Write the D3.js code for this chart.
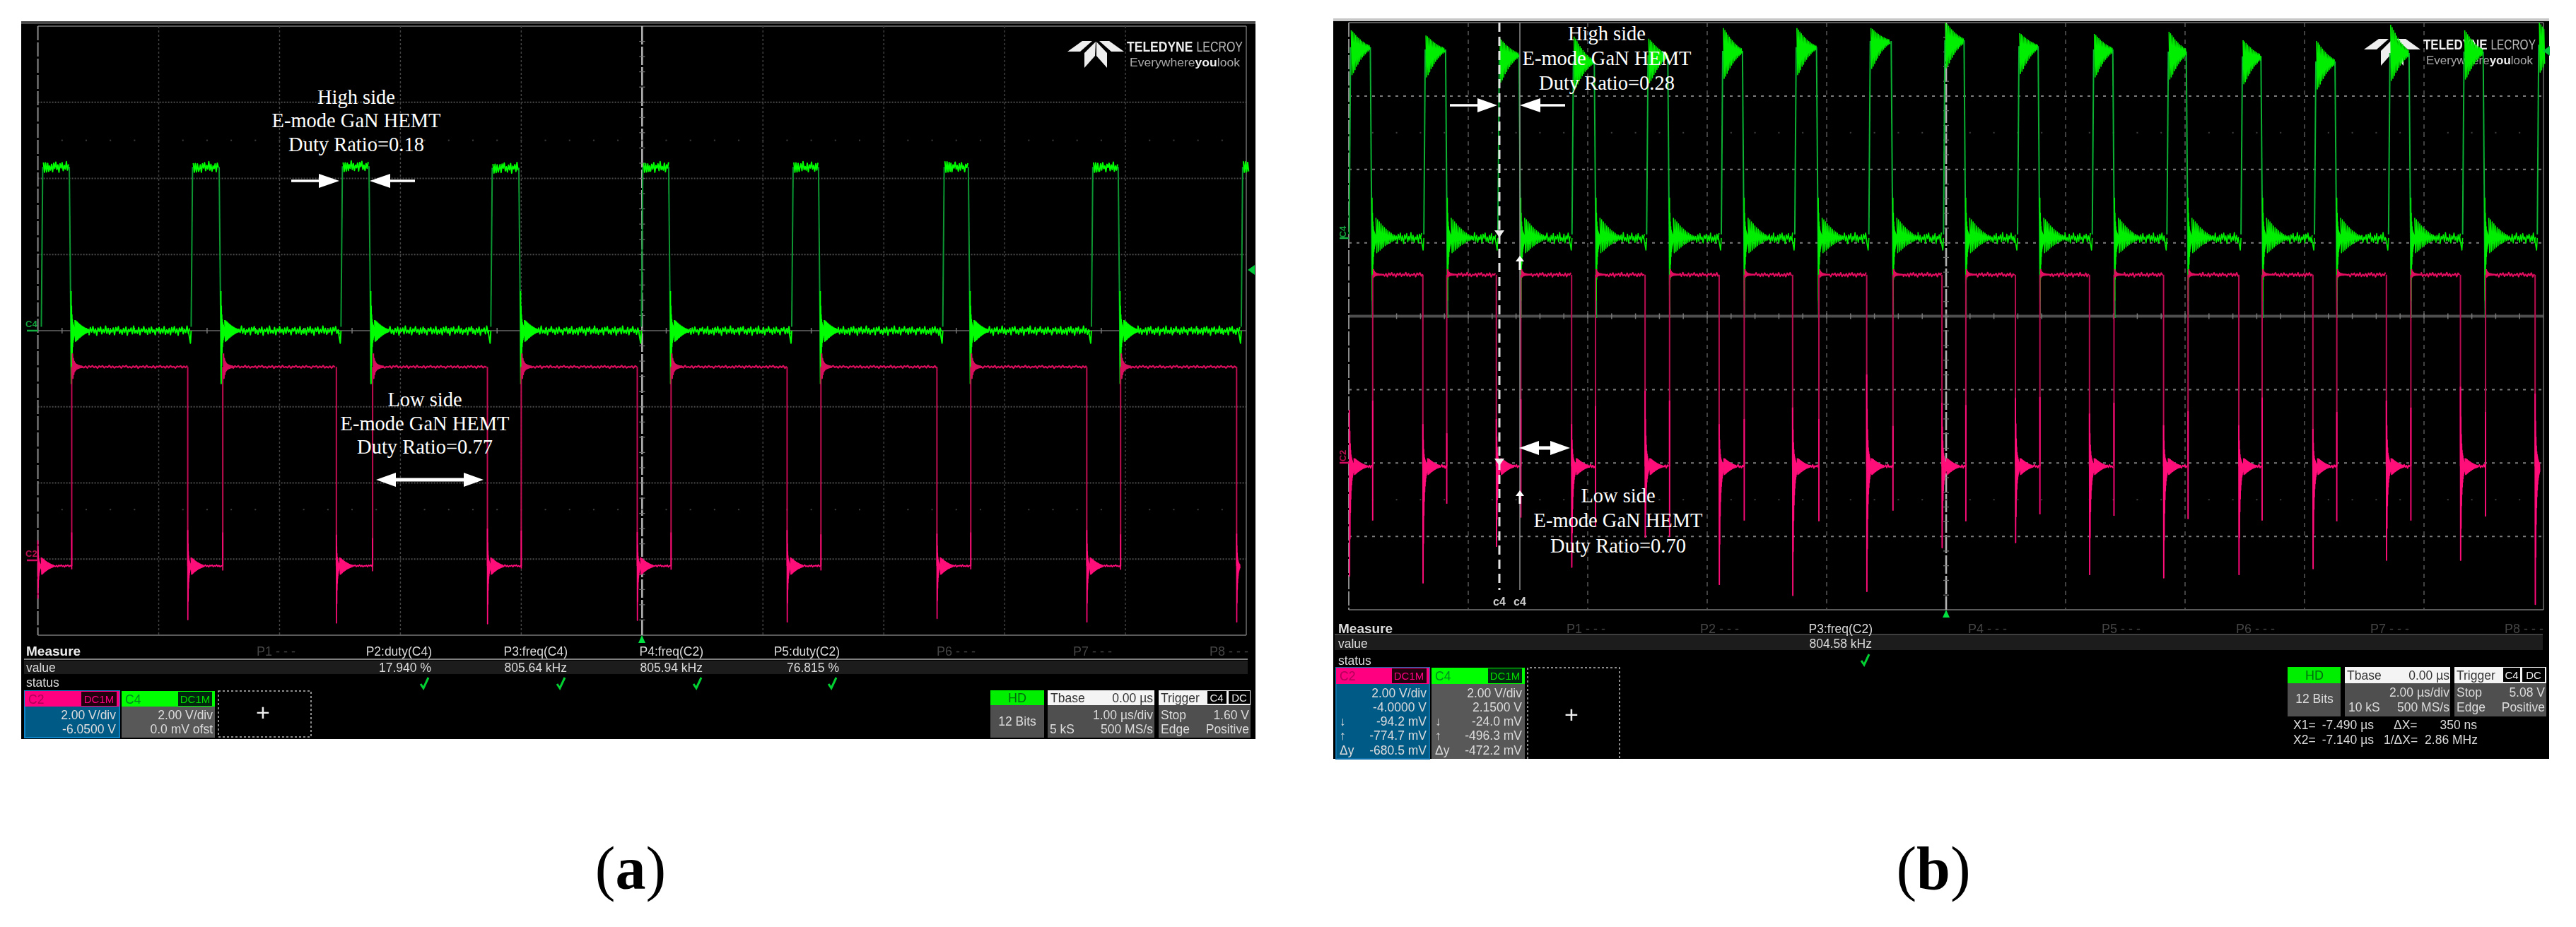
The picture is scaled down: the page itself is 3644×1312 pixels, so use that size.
<!DOCTYPE html>
<html><head><meta charset="utf-8">
<script src="https://cdn.jsdelivr.net/npm/d3@7"></script>
<style>html,body{margin:0;background:#fff}svg{display:block}text{white-space:pre}</style>
</head><body><svg id="c" width="3644" height="1312"></svg>
<script>
// ---------- waveform readings (µs on x, on-screen volts on y) ----------
const gridDivs=[0,1,2,3,4,5,6,7,8,9,10];
const hDivs=[0,1,2,3,4,5,6,7,8];

const greenRiseA=[-4.96,-3.72,-2.48,-1.24,0.006,1.25,2.50,3.73,4.97];
const greenFallA=[-4.74,-3.50,-2.26,-1.02,0.22,1.46,2.70,3.94];
const pinkRiseA=[-4.72,-3.47,-2.23,-1.00,0.24,1.48,2.72,3.96];
const pinkFallA=[-5.0,-3.76,-2.53,-1.28,-0.04,1.20,2.44,3.68,4.92];
const pinkFallTopA=[-5.51,-5.24,-5.36,-5.20,-5.29,-5.24,-5.33,-5.24,-5.33];
const pinkFallBotA=[-7.03,-7.59,-7.68,-7.70,-7.61,-7.65,-7.56,-7.65,-7.65];
const pinkRiseTopA=[-5.30,-5.30,-5.45,-5.25,-5.30,-5.35,-5.30,-5.35];
const pinkRiseBotA=[-6.27,-6.30,-6.32,-6.25,-6.28,-6.30,-6.27,-6.28];
const greenPeakA=[4.42,4.40,4.42,4.38,4.40,4.42,4.45,4.42,4.45];
const greenTopA=[4.30,4.30,4.32,4.28,4.30,4.30,4.30,4.30,4.30];

const greenRiseB=[-9.97,-8.72,-7.48,-6.24,-4.99,-3.74,-2.51,-1.27,-0.02,1.22,2.47,3.72,4.96,6.19,7.43,8.67,9.92];
const greenFallB=[-9.64,-8.38,-7.15,-5.89,-4.66,-3.41,-2.17,-0.92,0.30,1.54,2.79,4.02,5.27,6.51,7.75,8.99];
const pinkRiseB=[-9.60,-8.36,-7.12,-5.87,-4.63,-3.38,-2.13,-0.89,0.33,1.57,2.81,4.05,5.29,6.54,7.78,9.03];
const pinkFallB=[-9.99,-8.76,-7.53,-6.27,-5.04,-3.80,-2.57,-1.33,-0.07,1.16,2.40,3.64,4.90,6.14,7.37,8.61,9.86];
const pinkFallTopB=[-2.55,-2.94,-2.80,-2.94,-2.03,-2.94,-2.49,-1.59,-2.36,-2.23,-2.65,-2.97,-2.97,-3.07,-2.30,-1.92,-2.11];
const pinkFallBotB=[-7.08,-7.27,-6.27,-6.84,-6.02,-7.31,-7.61,-7.50,-6.31,-6.17,-7.04,-7.13,-7.04,-6.88,-6.65,-6.65,-7.85];
const pinkRiseTopB=[-2.30,-3.19,-2.26,-2.45,-2.30,-2.80,-2.80,-2.99,-2.42,-2.20,-2.36,-2.59,-2.22,-2.61,-2.49,-2.61];
const pinkRiseBotB=[-5.57,-5.11,-5.49,-5.72,-6.02,-5.57,-5.59,-5.30,-5.59,-5.40,-5.44,-5.53,-5.57,-5.59,-5.57,-5.46];
const greenPeakB=[7.79,7.65,7.56,7.62,7.56,7.85,7.85,7.85,8.0,7.71,7.69,7.75,7.52,7.50,7.94,7.79,8.0];
const greenTopB=[7.33,7.27,7.13,6.94,7.11,7.23,7.33,7.50,7.52,7.36,7.27,7.21,7.08,6.94,7.17,7.21,7.4];

const ripple=[.2,-.6,.5,-.9,.7,-.3,.9,-.5,.4,-1,.6,-.2,.8,-.7,.3,-.4,1,-.6,.5,-.8,.2,-.3,.6,-.9,.7,-.1,.9,-.6,.2,-.8,.5,-.4,
.8,-1,.3,-.2,.6,-.7,1,-.5,.1,-.6,.7,-.9,.4,-.2,.9,-.4,.3,-.8,.6,-.6,.8,-.3,.2,-.9,.5,-.1,.7,-.7,.4,-.5,.9,-.8];
const ringFast=[1,-1,.62,-.66,.4,-.42,.28,-.3,.2,-.22,.16,-.17,.13,-.13,.1,-.1,.08,-.08,.06,-.06,.05,-.05,.04,-.04];
const ringSlow=[1,-1,.9,-.92,.8,-.82,.7,-.7,.6,-.62,.52,-.52,.44,-.44,.36,-.36,.3,-.3,.24,-.24,.18,-.18,.14,-.14,.1,-.1];

// ---------- instrument text ----------
const measureHeadA=["P2:duty(C4)","P3:freq(C4)","P4:freq(C2)","P5:duty(C2)"];
const measureValueA=["17.940 %","805.64 kHz","805.94 kHz","76.815 %"];
const idleHeadA=["P1 - - -","P6 - - -","P7 - - -","P8 - - -"];
const idleHeadB=["P1 - - -","P2 - - -","P4 - - -","P5 - - -","P6 - - -","P7 - - -","P8 - - -"];
const c2LinesA=["2.00 V/div","-6.0500 V"];
const c4LinesA=["2.00 V/div","0.0 mV ofst"];
const c2LinesB=["2.00 V/div","-4.0000 V","-94.2 mV","-774.7 mV","-680.5 mV"];
const c4LinesB=["2.00 V/div","2.1500 V","-24.0 mV","-496.3 mV","-472.2 mV"];
const highLinesA=["High side","E-mode GaN HEMT","Duty Ratio=0.18"];
const lowLinesA=["Low side","E-mode GaN HEMT","Duty Ratio=0.77"];
const highLinesB=["High side","E-mode GaN HEMT","Duty Ratio=0.28"];
const lowLinesB=["Low side","E-mode GaN HEMT","Duty Ratio=0.70"];

const svg=d3.select("#c");
const SANS='"Liberation Sans",Arial,sans-serif', SERIF='"Liberation Serif","Times New Roman",serif';
const defs=svg.append("defs");
defs.append("filter").attr("id","soft").attr("x","-2%").attr("y","-2%").attr("width","104%").attr("height","104%")
  .append("feGaussianBlur").attr("stdDeviation",0.55);
defs.append("filter").attr("id","softT").attr("x","-2%").attr("y","-10%").attr("width","104%").attr("height","120%")
  .append("feGaussianBlur").attr("stdDeviation",0.7);
const line=d3.line();

function panel(p){
  const g=svg.append("g");
  g.append("rect").attr("x",p.L).attr("y",p.T).attr("width",p.R-p.L).attr("height",p.B-p.T).attr("fill","#000");
  g.append("rect").attr("x",p.L).attr("y",p.T-2).attr("width",p.R-p.L).attr("height",4).attr("fill",p.topColor);
  const x=d3.scaleLinear().domain(p.tDomain).range([p.gL,p.gR]);
  const y=d3.scaleLinear().domain([-8,8]).range([p.gB,p.gT]);
  const gx=d3.scaleLinear().domain([0,10]).range([p.gL,p.gR]);
  const gy=d3.scaleLinear().domain([0,8]).range([p.gT,p.gB]);
  const plot=g.append("g").attr("filter","url(#soft)");
  // grid
  plot.selectAll(".h").data(hDivs).join("line").attr("x1",p.gL).attr("x2",p.gR)
    .attr("y1",d=>gy(d)).attr("y2",d=>gy(d))
    .attr("stroke",d=>d==4?"#4d4d4d":(d==0||d==8?"#5a5a5a":p.gridH)).attr("stroke-width",d=>d==4?p.midW:2)
    .attr("stroke-dasharray",d=>(d==4||d==0||d==8)?null:p.dashH);
  plot.selectAll(".v").data(gridDivs).join("line").attr("y1",p.gT).attr("y2",p.gB)
    .attr("x1",d=>gx(d)).attr("x2",d=>gx(d))
    .attr("stroke",d=>d==5?"#b0b0b0":(d==0?"#8a8a8a":(d==10?"#777":p.gridV))).attr("stroke-width",d=>d==5?2.6:(d==0?2:1.4))
    .attr("stroke-dasharray",d=>d==5?"26 3":(d==0?"20 3":(d==10?null:p.dashV)));
  // fifth-division ticks on the centre line and the faint guides
  const fifths=d3.range(1,50).map(d=>d/5);
  plot.selectAll(".t").data(fifths).join("line").attr("x1",d=>gx(d)).attr("x2",d=>gx(d))
    .attr("y1",gy(4)-4).attr("y2",gy(4)+4).attr("stroke","#777").attr("stroke-width",1.5);
  plot.selectAll(".dot").data(fifths.flatMap(d=>[[d,1.5],[d,p.lowDot]])).join("rect")
    .attr("x",d=>gx(d[0])-1).attr("y",d=>gy(d[1])-1).attr("width",2).attr("height",2).attr("fill","#3e3e3e");
  plot.selectAll(".vt").data(d3.range(1,40).map(d=>d/5)).join("line").attr("x1",gx(5)-4).attr("x2",gx(5)+4)
    .attr("y1",d=>gy(d)).attr("y2",d=>gy(d)).attr("stroke","#777").attr("stroke-width",1.2);
  logo(plot,p.logoX,p.logoY,p.logoTextW);
  return {g,plot,x,y,gx,gy};
}

function fitText(g,s,x,y,width,o){
  const t=g.append("text").attr("font-family",SANS).attr("font-size",o.size).attr("font-weight",o.bold?"bold":null).attr("fill",o.c).text(s);
  const k=width/t.node().getComputedTextLength();
  t.attr("transform",`translate(${x},${y}) scale(${k},1)`);
  return t;
}
function logo(g,x0,y0,w){
  const l=g.append("g").attr("transform",`translate(${x0},${y0})`);
  const polys=[[[0,15],[21,0],[35,0],[18,15]],[[80,15],[59,0],[45,0],[62,15]],[[40,1],[24,17],[24,38],[39,21]],[[41,1],[56,17],[56,38],[41,21]]];
  l.selectAll("polygon").data(polys).join("polygon").attr("points",d=>d.join(" ")).attr("fill","#eee");
  fitText(l,"TELEDYNE",84,15,w*.57,{size:20,bold:true,c:"#eee"});
  fitText(l,"LECROY",84+w*.6,15,w*.4,{size:20,c:"#bbb"});
  const e=l.append("text").attr("x",88).attr("y",36).attr("font-family",SANS).attr("font-size",16)
    .attr("textLength",w-8).attr("lengthAdjust","spacingAndGlyphs").attr("fill","#aaa");
  e.append("tspan").text("Everywhere");
  e.append("tspan").attr("font-weight","bold").attr("fill","#eee").text("you");
  e.append("tspan").text("look");
}

function ring(arr,t0,level,up,down,step){return arr.map((d,j)=>[t0+j*step,level+(d>0?d*up:d*down)]);}
function flat(t0,t1,level,amp,step,off){const o=[];let k=0;for(let t=t0;t<t1;t+=step,k++)o.push([t,level+amp*ripple[(off+k)%ripple.length]]);return o;}

function greenTrace(P,c){
  const edges=[],detail=[];
  const px=c.pxUs, tEnd=P.x.domain()[1]+0.02;
  c.rise.forEach((r,i)=>{
    const f=c.fall[i]===undefined?tEnd:c.fall[i], next=c.rise[i+1];
    edges.push([[r-2*px,c.base+.1],[r,c.top[i]]]);
    const plat=ring(c.platRing,r+px,c.top[i],c.peak[i]-c.top[i],c.platDown,c.platStep*px)
      .filter(d=>d[0]<f);
    const last=plat[plat.length-1][0];
    detail.push(plat.concat(flat(last+px,f,c.top[i],c.platAmp,1.5*px,i*7)));
    if(c.fall[i]===undefined) return;
    edges.push([[f,c.top[i]],[f+3*px,c.fallBot]]);
    detail.push(ring(ringFast,f+2.5*px,c.base,c.spUp,c.spDown,c.spStep*px));
    const t1=f+c.slowStart*px;
    const rr=ring(ringSlow,t1,c.base,c.slowUp,c.slowDown,c.slowStep*px);
    const e=rr[rr.length-1][0];
    const endT=next===undefined?tEnd:next-4*px;
    const band=flat(e,endT,c.base,c.baseAmp,c.baseStep*px,i*11+3);
    detail.push(rr.concat(band));
    if(next!==undefined) detail.push([[next-6*px,c.base],[next-3*px,c.base-c.under],[next-2*px,c.base]]);
  });
  draw(P,edges,c.edgeColor,c.edgeW);draw(P,detail,c.color,c.detailW);
}

function pinkTrace(P,c){
  const edges=[],hi=[],lo=[];
  const px=c.pxUs,tEnd=P.x.domain()[1];
  c.fall.forEach((f,i)=>{
    const r=c.rise[i];
    if(i>0) edges.push([[f,c.top],[f,c.low]]);
    lo.push(ring(ringFast,f,c.low,c.fallTop[i]-c.low,c.low-c.fallBot[i],c.spStep*px));
    if(r===undefined) return;
    const rs=ring(ringSlow,f+c.spStep*px*24,c.low,c.lowRing,c.lowRing,c.lowStep*px).filter(d=>d[0]<r-2*px);
    const last=rs.length?rs[rs.length-1][0]:f;
    lo.push(rs.concat(flat(last+px,r,c.low,c.lowAmp,1.6*px,i*5)));
    edges.push([[r,c.low],[r,c.top]]);
    lo.push([[r,c.riseTop[i]],[r,c.riseBot[i]]]);
    const nf=c.fall[i+1]===undefined?tEnd:c.fall[i+1];
    const hs=ring(ringFast,r+px,c.top,c.hiUp,c.hiDown,.6*px);
    const e=hs[hs.length-1][0];
    hi.push(hs.concat(flat(e,nf,c.top,c.topAmp,c.topStep*px,i*9)));
  });
  draw(P,edges,c.edgeColor,c.edgeW);draw(P,hi,c.hiColor,c.hiW);draw(P,lo,c.color,c.detailW);
}

function draw(P,segs,color,w){
  const mapped=segs.map(s=>s.map(d=>[P.x(d[0]),P.y(d[1])]));
  P.plot.append("g").selectAll("path").data(mapped).join("path").attr("d",line).attr("fill","none")
    .attr("stroke",color).attr("stroke-width",w).attr("stroke-linejoin","round");
}

function txt(g,s,x,y,o={}){
  return g.append("text").attr("x",x).attr("y",y).attr("font-family",o.font||SANS).attr("font-size",o.size||17.5)
    .attr("font-weight",o.bold?"bold":null).attr("text-anchor",o.a||"start").attr("fill",o.c||"#dcdcdc")
    .attr("transform",o.rot?`rotate(${o.rot} ${x} ${y})`:null).text(s);
}
function arrow(g,a,b,y,head,half,bar){ // tip at b, tail at a
  const s=b>a?1:-1;
  g.append("polygon").attr("points",[[a,y-bar/2],[b-s*head,y-bar/2],[b-s*head,y-half],[b,y],[b-s*head,y+half],[b-s*head,y+bar/2],[a,y+bar/2]].join(" ")).attr("fill","#fff");
}
function notes(g,lines,cx,ys){lines.forEach((s,i)=>g.append("text").attr("transform",`translate(${cx},${ys[i]+9}) scale(.95,1)`)
  .attr("font-family",SERIF).attr("font-size",30).attr("text-anchor","middle").attr("fill","#fff").text(s));}
function check(g,x,y){g.append("path").attr("d",`M${x-6},${y+1}L${x-2},${y+7}L${x+5},${y-8}`).attr("fill","none").attr("stroke","#00d030").attr("stroke-width",3);}
function box(g,x,y,w,h,fill,stroke){return g.append("rect").attr("x",x).attr("y",y).attr("width",w).attr("height",h).attr("fill",fill).attr("stroke",stroke||"none").attr("stroke-width",stroke?2:0);}

// ================= panel (a) =================
const A=panel({L:30,R:1776,T:32,B:1046,gL:53.6,gR:1763,gT:37,gB:899,tDomain:[-5,5],topColor:"#484848",
  gridH:"#4c4c4c",gridV:"#444",dashH:"2 2",dashV:"3 3",midW:2,lowDot:6.35,logoX:1510,logoY:58,logoTextW:164});
greenTrace(A,{pxUs:1/171,rise:greenRiseA,fall:greenFallA,top:greenTopA,peak:greenPeakA,base:0,fallBot:-1.39,
  platRing:ringSlow.slice(0,6),platDown:.14,platStep:1.5,platAmp:.14,spUp:1.04,spDown:1.39,spStep:.3,slowStart:8,slowUp:.28,slowDown:.28,slowStep:.8,
  baseAmp:.12,baseStep:1.8,under:.33,color:"#00ff00",edgeColor:"#0a9630",edgeW:2,detailW:1.9});
pinkTrace(A,{pxUs:1/171,rise:pinkRiseA,fall:pinkFallA,fallTop:pinkFallTopA,fallBot:pinkFallBotA,riseTop:pinkRiseTopA,riseBot:pinkRiseBotA,
  top:-.95,low:-6.18,spStep:.2,lowRing:.22,lowStep:.7,lowAmp:.03,hiUp:.35,hiDown:.3,topAmp:.035,topStep:2.4,
  color:"#ff0a78",hiColor:"#d8105c",edgeColor:"#c00c50",edgeW:2,hiW:2.2,detailW:1.7});
// trace labels and markers
const aF=A.g.append("g").attr("filter","url(#soft)");
txt(aF,"C4",36,463,{size:13,c:"#12a03a",bold:true});
aF.append("line").attr("x1",38).attr("x2",54).attr("y1",468).attr("y2",468).attr("stroke","#12b040").attr("stroke-width",2.5);
txt(aF,"C2",36,788,{size:13,c:"#b8104e",bold:true});
aF.append("line").attr("x1",38).attr("x2",54).attr("y1",793).attr("y2",793).attr("stroke","#d01060").attr("stroke-width",2.5);
aF.append("polygon").attr("points","908,899 903,910 913,910").attr("fill","#00e040");
aF.append("polygon").attr("points","1765,382 1775,375 1775,389").attr("fill","#00c838");
notes(A.g,highLinesA,504,[138,171,205]);
notes(A.g,lowLinesA,601,[566,600,633]);
arrow(A.g,412,480,256,29,10,3.5);arrow(A.g,587,523,256,29,10,3.5);
arrow(A.g,608,532,679,28,10,5);arrow(A.g,608,684,679,28,10,5);
// measure table
const aT=A.g.append("g").attr("filter","url(#softT)");
box(aT,34,935,1731,19,"#1b1b1b");
aT.append("line").attr("x1",34).attr("x2",1765).attr("y1",933).attr("y2",933).attr("stroke","#aaa").attr("stroke-width",1.5);
txt(aT,"Measure",37,928,{bold:true,size:19,c:"#eee"});txt(aT,"value",37,951);txt(aT,"status",37,972);
const idleX=[363,1325,1518,1711];
idleHeadA.forEach((s,i)=>txt(aT,s,idleX[i],928,{c:"#454545",size:18}));
const mRight=[611,803,995,1188], mCheck=[601,794,987,1178];
measureHeadA.forEach((s,i)=>txt(aT,s,mRight[i],928,{a:"end"}));
measureValueA.forEach((s,i)=>txt(aT,s,mRight[i]-1,951,{a:"end"}));
mCheck.forEach(x=>check(aT,x,967));
// channel boxes
box(aT,35,978,134,66,"#055a86","#0a84c8");box(aT,35,978,134,22,"#ff0080");
box(aT,115,979,50,20,"#200010");txt(aT,"DC1M",140,995,{a:"middle",size:15,c:"#ff0080"});txt(aT,"C2",40,996,{c:"#b00058"});
box(aT,172,978,132,66,"#585858");box(aT,172,978,132,22,"#00ff00");
box(aT,252,979,48,20,"#002808");txt(aT,"DC1M",276,995,{a:"middle",size:15,c:"#00e000"});txt(aT,"C4",177,996,{c:"#008820"});
c2LinesA.forEach((s,i)=>txt(aT,s,164,1018+20*i,{a:"end"}));
c4LinesA.forEach((s,i)=>txt(aT,s,301,1018+20*i,{a:"end"}));
aT.append("rect").attr("x",309).attr("y",978).attr("width",131).attr("height",65).attr("fill","none").attr("stroke","#bbb").attr("stroke-width",1.5).attr("stroke-dasharray","3 3");
txt(aT,"+",372,1020,{a:"middle",size:34,c:"#eee"});
// timebase boxes
box(aT,1401,977,76,67,"#505050");box(aT,1401,977,76,21,"#00ee00");
txt(aT,"HD",1439,994,{a:"middle",c:"#006a10",size:18});txt(aT,"12 Bits",1439,1027,{a:"middle"});
box(aT,1482,977,151,67,"#505050");box(aT,1482,977,151,21,"#f4f4f4");
txt(aT,"Tbase",1486,994,{c:"#333"});txt(aT,"0.00 µs",1631,994,{a:"end",c:"#333"});
txt(aT,"1.00 µs/div",1631,1018,{a:"end"});txt(aT,"5 kS",1485,1038);txt(aT,"500 MS/s",1631,1038,{a:"end"});
box(aT,1639,977,130,67,"#505050");box(aT,1639,977,130,21,"#f4f4f4");
txt(aT,"Trigger",1642,994,{c:"#333"});box(aT,1708,978,27,18,"#000");box(aT,1738,978,30,18,"#000");
txt(aT,"C4",1721,993,{a:"middle",size:15,c:"#eee"});txt(aT,"DC",1753,993,{a:"middle",size:15,c:"#eee"});
txt(aT,"Stop",1642,1018);txt(aT,"1.60 V",1767,1018,{a:"end"});txt(aT,"Edge",1642,1038);txt(aT,"Positive",1767,1038,{a:"end"});

// ================= panel (b) =================
const B=panel({L:1886,R:3606,T:28,B:1074,gL:1908,gR:3598,gT:32,gB:863,tDomain:[-10,10],topColor:"#c8c8c8",
  gridH:"#7c7c7c",gridV:"#5e5e5e",dashH:"4 7",dashV:"6 6",midW:4,lowDot:6.5,logoX:3344,logoY:55,logoTextW:159});
greenTrace(B,{pxUs:1/84.5,rise:greenRiseB,fall:greenFallB,top:greenTopB,peak:greenPeakB,base:2.13,fallBot:-.05,
  platRing:ringSlow,platDown:.75,platStep:1.05,platAmp:.06,spUp:1.1,spDown:1.7,spStep:.3,slowStart:8,slowUp:.55,slowDown:.4,slowStep:1.2,
  baseAmp:.15,baseStep:1.5,under:.33,color:"#00ee00",edgeColor:"#08b030",edgeW:2,detailW:1.6});
pinkTrace(B,{pxUs:1/84.5,rise:pinkRiseB,fall:pinkFallB,fallTop:pinkFallTopB,fallBot:pinkFallBotB,riseTop:pinkRiseTopB,riseBot:pinkRiseBotB,
  top:1.13,low:-4.09,spStep:.28,lowRing:.22,lowStep:.7,lowAmp:.05,hiUp:.15,hiDown:.06,topAmp:.06,topStep:2,
  color:"#ff0a78",hiColor:"#e0105f",edgeColor:"#b80c50",edgeW:2,hiW:2,detailW:1.9});
const bF=B.g.append("g").attr("filter","url(#soft)");
txt(bF,"C4",1904,328,{size:13,c:"#12a03a",bold:true,rot:-90,a:"middle"});
bF.append("line").attr("x1",1895).attr("x2",1908).attr("y1",337).attr("y2",337).attr("stroke","#12b040").attr("stroke-width",2.5);
txt(bF,"C2",1904,645,{size:13,c:"#b8104e",bold:true,rot:-90,a:"middle"});
bF.append("line").attr("x1",1895).attr("x2",1908).attr("y1",655).attr("y2",655).attr("stroke","#d01060").attr("stroke-width",2.5);
bF.append("polygon").attr("points","2753,863 2748,874 2758,874").attr("fill","#00e040");
bF.append("polygon").attr("points","3597,72 3607,65 3607,79").attr("fill","#00c838");
// cursors
bF.append("line").attr("x1",2150).attr("x2",2150).attr("y1",32).attr("y2",835).attr("stroke","#8e8e8e").attr("stroke-width",1.5);
bF.append("line").attr("x1",2121).attr("x2",2121).attr("y1",32).attr("y2",835).attr("stroke","#e4e4e4").attr("stroke-width",3).attr("stroke-dasharray","13 7");
[[2121,330],[2121,653]].forEach(d=>bF.append("polygon").attr("points",`${d[0]-7},${d[1]-4} ${d[0]+7},${d[1]-4} ${d[0]},${d[1]+6}`).attr("fill","#eee"));
txt(bF,"c4",2121,857,{a:"middle",size:16,bold:true,c:"#ccc"});txt(bF,"c4",2150,857,{a:"middle",size:16,bold:true,c:"#ccc"});
[[362,382],[694,713]].forEach(d=>{
  B.g.append("rect").attr("x",2148.5).attr("y",d[0]+6).attr("width",3).attr("height",d[1]-d[0]-6).attr("fill","#fff");
  B.g.append("polygon").attr("points",`2144,${d[0]+8} 2156,${d[0]+8} 2150,${d[0]}`).attr("fill","#fff");
});
notes(B.g,highLinesB,2273,[48,83,118]);
notes(B.g,lowLinesB,2289,[702,737,773]);
arrow(B.g,2051,2118,149,28,10,3.5);arrow(B.g,2214,2150,149,29,10,3.5);
arrow(B.g,2185,2149,634,28,10,5);arrow(B.g,2185,2221,634,28,10,5);
const bT=B.g.append("g").attr("filter","url(#softT)");
box(bT,1888,899,1709,21,"#1b1b1b");
bT.append("line").attr("x1",1888).attr("x2",3597).attr("y1",898).attr("y2",898).attr("stroke","#555").attr("stroke-width",1.5);
txt(bT,"Measure",1893,896,{bold:true,size:19,c:"#ddd"});txt(bT,"value",1893,917);txt(bT,"status",1893,941);
const idleXB=[2216,2405,2784,2973,3163,3353,3543];
idleHeadB.forEach((s,i)=>txt(bT,s,idleXB[i],896,{c:"#454545",size:18}));
txt(bT,"P3:freq(C2)",2649,896,{a:"end"});txt(bT,"804.58 kHz",2648,917,{a:"end"});check(bT,2639,934);
box(bT,1890,945,132,129,"#055a86","#0a70a8");box(bT,1890,945,132,23,"#ff0080");
box(bT,1969,946,49,21,"#200010");txt(bT,"DC1M",1993,962,{a:"middle",size:15,c:"#ff0080"});txt(bT,"C2",1895,963,{c:"#b00058"});
box(bT,2025,945,132,129,"#585858");box(bT,2025,945,132,23,"#00ff00");
box(bT,2105,946,48,21,"#002808");txt(bT,"DC1M",2129,962,{a:"middle",size:15,c:"#00e000"});txt(bT,"C4",2030,963,{c:"#008820"});
const bLineY=[987,1007,1027,1047,1068];
c2LinesB.forEach((s,i)=>txt(bT,s,2018,bLineY[i],{a:"end"}));
c4LinesB.forEach((s,i)=>txt(bT,s,2153,bLineY[i],{a:"end"}));
[["↓",1027],["↑",1047],["Δy",1068]].forEach(d=>{txt(bT,d[0],1895,d[1]);txt(bT,d[0],2030,d[1]);});
bT.append("path").attr("d","M2161,1074V945H2291V1074").attr("fill","none").attr("stroke","#bbb").attr("stroke-width",1.5).attr("stroke-dasharray","3 3");
txt(bT,"+",2223,1023,{a:"middle",size:34,c:"#eee"});
box(bT,3236,944,75,70,"#505050");box(bT,3236,944,75,23,"#00ee00");
txt(bT,"HD",3274,962,{a:"middle",c:"#006a10",size:18});txt(bT,"12 Bits",3274,995,{a:"middle"});
box(bT,3317,944,149,70,"#505050");box(bT,3317,944,149,23,"#f4f4f4");
txt(bT,"Tbase",3320,962,{c:"#333"});txt(bT,"0.00 µs",3465,962,{a:"end",c:"#333"});
txt(bT,"2.00 µs/div",3465,986,{a:"end"});txt(bT,"10 kS",3322,1007);txt(bT,"500 MS/s",3465,1007,{a:"end"});
box(bT,3472,944,130,70,"#505050");box(bT,3472,944,130,23,"#f4f4f4");
txt(bT,"Trigger",3475,962,{c:"#333"});box(bT,3541,945,24,20,"#000");box(bT,3568,945,32,20,"#000");
txt(bT,"C4",3553,961,{a:"middle",size:15,c:"#eee"});txt(bT,"DC",3584,961,{a:"middle",size:15,c:"#eee"});
txt(bT,"Stop",3475,986);txt(bT,"5.08 V",3600,986,{a:"end"});txt(bT,"Edge",3475,1007);txt(bT,"Positive",3600,1007,{a:"end"});
txt(bT,"X1=",3244,1032);txt(bT,"-7.490 µs",3358,1032,{a:"end"});txt(bT,"ΔX=",3386,1032);txt(bT,"350 ns",3504,1032,{a:"end"});
txt(bT,"X2=",3244,1053);txt(bT,"-7.140 µs",3358,1053,{a:"end"});txt(bT,"1/ΔX=",3372,1053);txt(bT,"2.86 MHz",3505,1053,{a:"end"});

// captions
[["a",892],["b",2735]].forEach(d=>{
  const t=svg.append("text").attr("x",d[1]).attr("y",1258).attr("text-anchor","middle").attr("font-family",SERIF).attr("font-size",86).attr("fill","#000");
  t.append("tspan").text("(");t.append("tspan").attr("font-weight","bold").text(d[0]);t.append("tspan").text(")");
});
</script></body></html>
